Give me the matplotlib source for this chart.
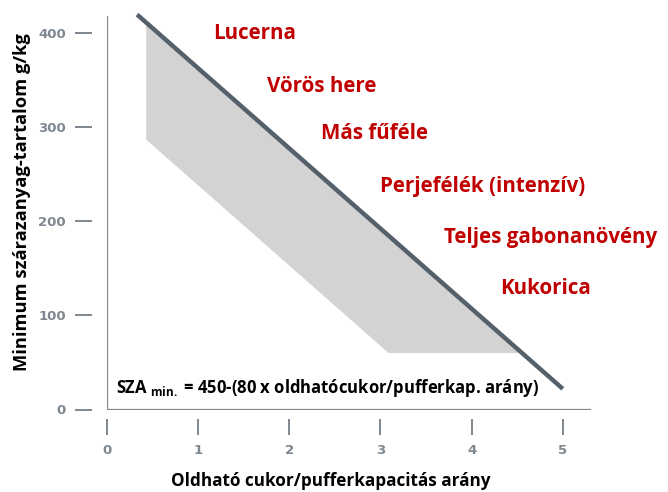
import matplotlib.pyplot as plt

# line: minimum dry matter vs sugar/buffer ratio
line_x = [0.33, 5.0]
line_y = [420, 22]

# shaded band (vertices)
band_x = [0.43, 4.55, 3.09, 0.43]
band_y = [411, 60, 60, 287]

crops = ["Lucerna", "Vörös here", "Más fűféle", "Perjefélék (intenzív)",
         "Teljes gabonanövény", "Kukorica"]
crop_x = [1.16, 1.75, 2.35, 3.0, 3.7, 4.31]
crop_y = [400, 343, 293, 237, 183, 129]

xticks = [0, 1, 2, 3, 4, 5]
yticks = [0, 100, 200, 300, 400]

plt.rcParams['font.family'] = ['Open Sans', 'DejaVu Sans']
plt.rcParams['mathtext.fontset'] = 'custom'
plt.rcParams['mathtext.rm'] = 'Open Sans:bold'
plt.rcParams['mathtext.bf'] = 'Open Sans:bold'

grey = '#7f8890'
fig = plt.figure(figsize=(6.68, 4.92), dpi=100)
ax = fig.add_axes([107/668, 82.5/492, 484/668, 394/492])
ax.set_xlim(0, 5.31)
ax.set_ylim(0, 419)

ax.fill(band_x, band_y, color='#d3d3d3', lw=0, zorder=1)
ax.plot(line_x, line_y, color='#56606a', lw=3.2, solid_capstyle='butt', clip_on=False, zorder=3)

ax.axvline(0, color=grey, lw=1.6, zorder=2)
ax.axhline(0, color=grey, lw=1.6, zorder=2)

for s in ax.spines.values():
    s.set_color('none')
ax.spines['left'].set_position(('outward', 11))
ax.spines['bottom'].set_position(('outward', 7))

ax.set_xticks(xticks)
ax.set_yticks(yticks)
ax.tick_params(axis='y', length=12.5, width=1.4, color=grey, pad=6, labelsize=9.5, labelcolor=grey)
ax.tick_params(axis='x', length=11.5, width=1.4, color=grey, pad=6.5, labelsize=9.5, labelcolor=grey)
for lab in ax.get_xticklabels() + ax.get_yticklabels():
    lab.set_fontweight('bold')
    lab.set_family('DejaVu Sans')

for name, cx, cy in zip(crops, crop_x, crop_y):
    ax.text(cx, cy, name, color='#c00000', fontsize=14.8, fontweight='bold', ha='left', va='center')

ax.text(0.1, 23, r"SZA $_{\mathrm{min.}}$ = 450-(80 x oldhatócukor/pufferkap. arány)",
        fontsize=12, fontweight='bold', ha='left', va='center')

fig.text(0.033, 0.59, "Minimum szárazanyag-tartalom g/kg", rotation=90, fontsize=13.2,
         fontweight='bold', ha='center', va='center')
fig.text(0.495, 0.022, "Oldható cukor/pufferkapacitás arány", fontsize=12.3,
         fontweight='bold', ha='center', va='center')

fig.savefig('out.png', dpi=100)
